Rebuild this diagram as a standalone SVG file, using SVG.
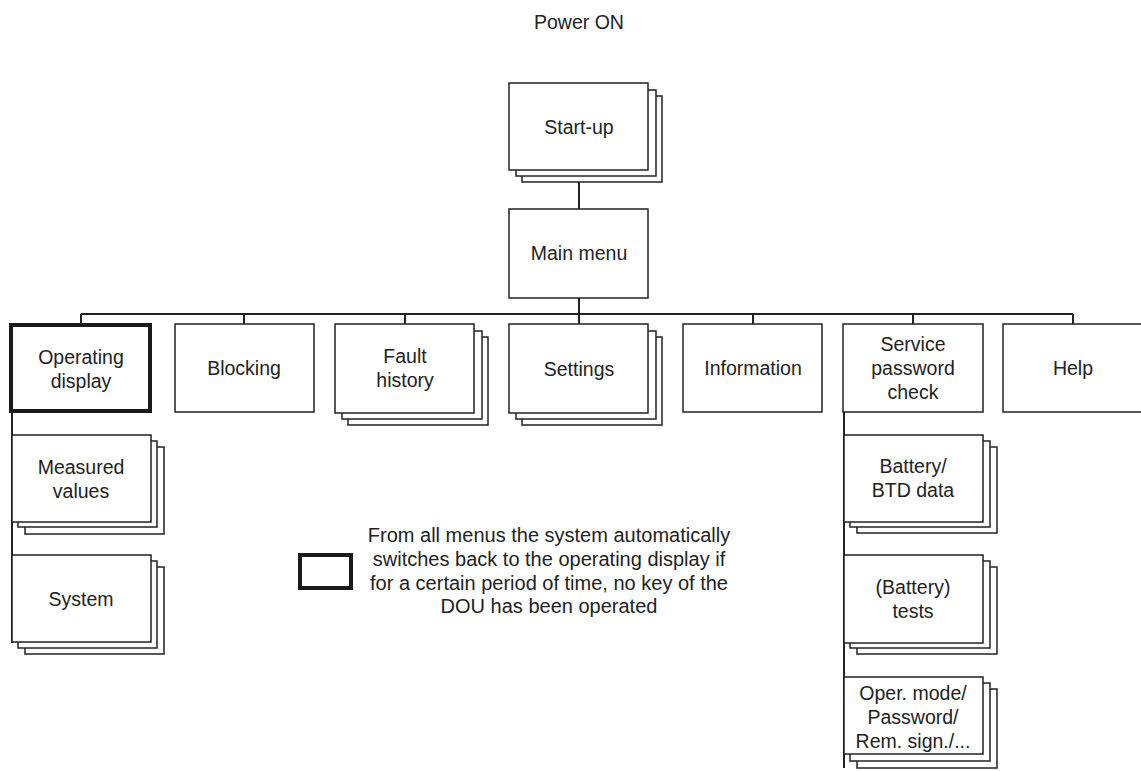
<svg xmlns="http://www.w3.org/2000/svg" width="1141" height="771" viewBox="0 0 1141 771">
<style>
  .box { fill: #fff; stroke: #222; stroke-width: 1.5; }
  .thick { fill: #fff; stroke: #1a1a1a; stroke-width: 4; }
  .line { fill: none; stroke: #222; stroke-width: 2; }
  text { font-family: "Liberation Sans", Arial, sans-serif; font-size: 19.5px; fill: #222; text-anchor: middle; }
  .legend { font-size: 20px; }
</style>
<rect width="1141" height="771" fill="#fff"/>
<g id="connectors">
  <line class="line" x1="579" y1="170" x2="579" y2="209"/>
  <line class="line" x1="579" y1="298" x2="579" y2="324"/>
  <line class="line" x1="81" y1="314" x2="1073" y2="314"/>
  <line class="line" x1="81" y1="314" x2="81" y2="325"/>
  <line class="line" x1="244" y1="314" x2="244" y2="324"/>
  <line class="line" x1="405" y1="314" x2="405" y2="324"/>
  <line class="line" x1="753" y1="314" x2="753" y2="324"/>
  <line class="line" x1="913" y1="314" x2="913" y2="324"/>
  <line class="line" x1="1073" y1="314" x2="1073" y2="324"/>
  <line class="line" x1="12" y1="411" x2="12" y2="643"/>
  <line class="line" x1="844" y1="412" x2="844" y2="768"/>
</g>
<g id="power-on"><text x="579" y="29">Power ON</text></g>
<g id="startup">
  <rect class="box" x="522" y="96" width="140" height="86"/>
  <rect class="box" x="516" y="90" width="140" height="86"/>
  <rect class="box" x="509" y="83" width="139" height="87"/>
  <text x="579" y="134">Start-up</text>
</g>
<g id="main-menu">
  <rect class="box" x="509" y="209" width="139" height="89"/>
  <text x="579" y="260">Main menu</text>
</g>
<g id="operating-display">
  <rect class="thick" x="11" y="325" width="139" height="86"/>
  <text x="81" y="364">Operating</text>
  <text x="81" y="388">display</text>
</g>
<g id="blocking">
  <rect class="box" x="175" y="324" width="139" height="88"/>
  <text x="244" y="375">Blocking</text>
</g>
<g id="fault-history">
  <rect class="box" x="348" y="337" width="140" height="88"/>
  <rect class="box" x="342" y="331" width="140" height="88"/>
  <rect class="box" x="335" y="324" width="139" height="89"/>
  <text x="405" y="363">Fault</text>
  <text x="405" y="387">history</text>
</g>
<g id="settings">
  <rect class="box" x="522" y="337" width="140" height="88"/>
  <rect class="box" x="516" y="331" width="140" height="88"/>
  <rect class="box" x="509" y="324" width="139" height="89"/>
  <text x="579" y="376">Settings</text>
</g>
<g id="information">
  <rect class="box" x="683" y="324" width="139" height="88"/>
  <text x="753" y="375">Information</text>
</g>
<g id="service-password-check">
  <rect class="box" x="843" y="324" width="140" height="88"/>
  <text x="913" y="351">Service</text>
  <text x="913" y="375">password</text>
  <text x="913" y="399">check</text>
</g>
<g id="help">
  <rect class="box" x="1003" y="324" width="150" height="88"/>
  <text x="1073" y="375">Help</text>
</g>
<g id="measured-values">
  <rect class="box" x="25" y="447" width="139" height="87"/>
  <rect class="box" x="18" y="441" width="139" height="86"/>
  <rect class="box" x="12" y="435" width="139" height="87"/>
  <text x="81" y="474">Measured</text>
  <text x="81" y="498">values</text>
</g>
<g id="system">
  <rect class="box" x="25" y="567" width="139" height="87"/>
  <rect class="box" x="18" y="561" width="139" height="87"/>
  <rect class="box" x="12" y="555" width="139" height="87"/>
  <text x="81" y="606">System</text>
</g>
<g id="battery-btd-data">
  <rect class="box" x="857" y="447" width="140" height="86"/>
  <rect class="box" x="850" y="441" width="140" height="86"/>
  <rect class="box" x="844" y="435" width="139" height="87"/>
  <text x="913" y="473">Battery/</text>
  <text x="913" y="497">BTD data</text>
</g>
<g id="battery-tests">
  <rect class="box" x="857" y="567" width="140" height="87"/>
  <rect class="box" x="850" y="561" width="140" height="87"/>
  <rect class="box" x="844" y="555" width="139" height="88"/>
  <text x="913" y="594">(Battery)</text>
  <text x="913" y="618">tests</text>
</g>
<g id="oper-mode">
  <rect class="box" x="857" y="689" width="140" height="79"/>
  <rect class="box" x="850" y="683" width="140" height="78"/>
  <rect class="box" x="844" y="677" width="139" height="77"/>
  <text x="913" y="700">Oper. mode/</text>
  <text x="913" y="724">Password/</text>
  <text x="913" y="748">Rem. sign./...</text>
</g>
<g id="legend">
  <rect class="thick" x="300" y="555" width="51" height="33"/>
  <text class="legend" x="549" y="542">From all menus the system automatically</text>
  <text class="legend" x="549" y="566">switches back to the operating display if</text>
  <text class="legend" x="549" y="590">for a certain period of time, no key of the</text>
  <text class="legend" x="549" y="613">DOU has been operated</text>
</g>
</svg>
